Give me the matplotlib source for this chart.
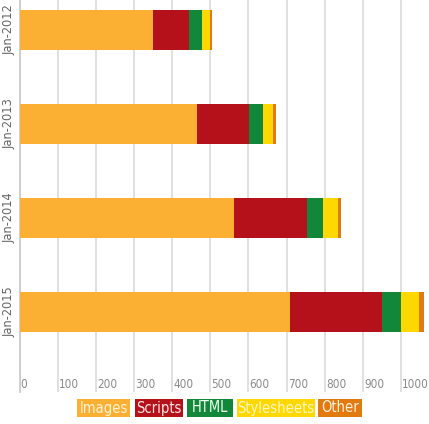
import matplotlib.pyplot as plt
from matplotlib.patches import Rectangle
import numpy as np

# values (KB per page, stacked)
dates = ['Jan-2012', 'Jan-2013', 'Jan-2014', 'Jan-2015']
images = [349, 465, 562, 710]
scripts = [95, 137, 191, 240]
html = [33, 37, 43, 50]
stylesheets = [23, 25, 38, 47]
other = [5, 7, 9, 13]
ticks = [0, 100, 200, 300, 400, 500, 600, 700, 800, 900, 1000]

series = ['Images', 'Scripts', 'HTML', 'Stylesheets', 'Other']
colors = ['#FBB034', '#B5111A', '#12873A', '#FFD800', '#E27A10']
text_colors = ['#FFF3D6', '#FFE6E6', '#F0FFF0', '#FFF8C8', '#FFF0E0']

plt.rcParams['font.family'] = ['DejaVu Sans']
plt.rcParams['font.stretch'] = 'condensed'

fig = plt.figure(figsize=(4.29, 4.24), dpi=100)
ax = fig.add_axes([19.5 / 429, 1 - 392 / 424, 1 - 19.5 / 429, 392 / 424])

y = np.arange(len(dates))
left = np.zeros(len(dates))
for vals, c in zip([images, scripts, html, stylesheets, other], colors):
    ax.barh(y, vals, left=left, height=0.426, color=c, zorder=3)
    left += np.array(vals)

ax.set_xlim(0, 1073)
ax.set_ylim(3.851, -0.319)

ax.set_xticks(ticks)
ax.set_xticklabels([])
ax.tick_params(axis='x', length=0)
ax.grid(axis='x', color='#DDDDDD', linewidth=1.3, zorder=0)

# tick labels sit inside the plot, just right of each gridline
for t in ticks:
    ax.text(t + 3, 3.766, str(t), ha='left', va='center',
            fontsize=8.4, color='#8A8A8A', stretch='condensed')

ax.set_yticks(y)
ax.set_yticklabels(dates, rotation=90, va='center', fontsize=9.2,
                   color='#666666', stretch='condensed')
ax.tick_params(axis='y', length=0, pad=2.5)

for s in ['top', 'right', 'bottom']:
    ax.spines[s].set_visible(False)
ax.spines['left'].set_color('#C8C8C8')
ax.spines['left'].set_linewidth(1.2)

# legend as coloured boxes along the bottom (pixel extents of the boxes)
box_x = [(77, 130), (135, 183), (187, 233), (237, 315), (318, 362)]
H = 424.0
W = 429.0
for name, c, tc, (x0, x1) in zip(series, colors, text_colors, box_x):
    fig.patches.append(Rectangle((x0 / W, 1 - 417 / H), (x1 - x0) / W, 18 / H,
                                 transform=fig.transFigure, fc=c, ec='none'))
    fig.text((x0 + x1) / 2 / W, 1 - 408 / H, name, ha='center', va='center',
             fontsize=10.5, color=tc, stretch='condensed')

fig.savefig('out.png', dpi=100)
